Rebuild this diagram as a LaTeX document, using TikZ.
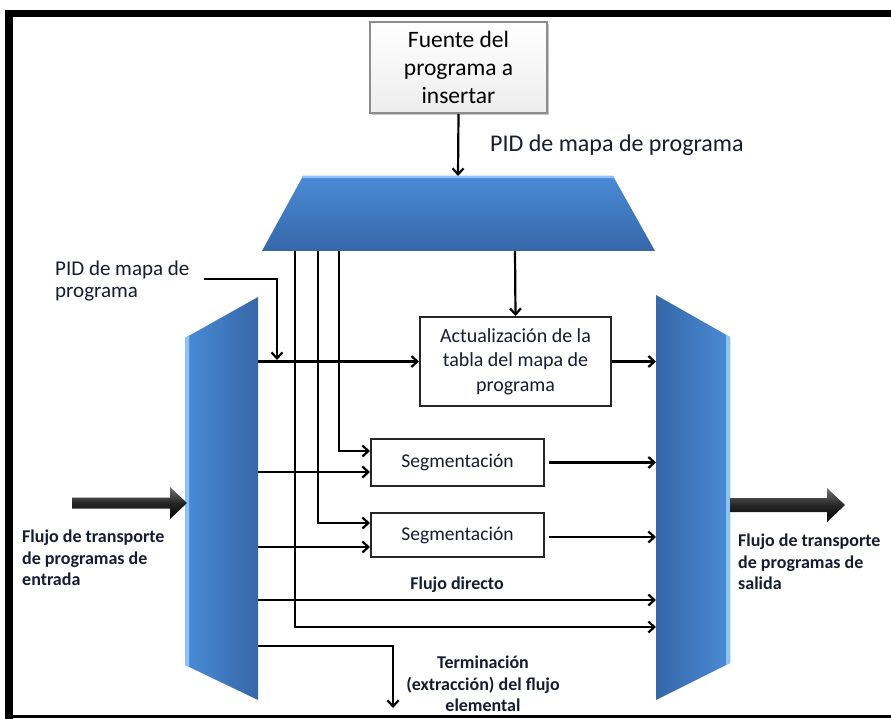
\documentclass[tikz,border=0pt]{standalone}
\usepackage{fontspec}
\setmainfont{Carlito}
\usetikzlibrary{arrows.meta,shadows,calc}

\definecolor{bluelight}{HTML}{4A8BD6}
\definecolor{bluedark}{HTML}{3667A8}
\definecolor{bluehi}{HTML}{8CC2F5}
\definecolor{inkblue}{HTML}{161C33}

\tikzset{
  conn/.style={line width=2.2pt, black},
  arr/.style={conn, -{Straight Barb[length=6pt,width=11pt]}},
  procbox/.style={draw=black!85, line width=2pt, fill=white, align=center,
    text=inkblue, inner sep=0pt},
  srcbox/.style={draw=black!45, line width=1.8pt, top color=white, bottom color=black!7,
    align=center, inner sep=0pt,
    drop shadow={opacity=0.45, shadow xshift=1.5pt, shadow yshift=-2.5pt}},
  plainlbl/.style={text=inkblue, inner sep=0pt},
  boldlbl/.style={text=inkblue, inner sep=0pt, font=\bfseries\fontsize{18}{21.5}\selectfont},
  bigarrow/.style={top color=black!55, bottom color=black, middle color=black!85}
}

\begin{document}
\begin{tikzpicture}[x=1pt,y=-1pt]
\useasboundingbox (0,0) rectangle (891,719);
\fill[white] (0,0) rectangle (891,719);

% frame
\fill[black] (5,10) rectangle (891,17.5);
\fill[black] (5,10) rectangle (12.5,719);
\fill[black] (5,714.5) rectangle (891,717.5);

% program source
\node[srcbox, minimum width=177pt, minimum height=91pt,
  font=\fontsize{23.5}{28}\selectfont] (src) at (458.5,67.5)
  {Fuente del\\programa a\\insertar};

% program map multiplexer (trapezoid)
\coordinate (mTL) at (303,176);
\coordinate (mTR) at (613,176);
\coordinate (mBR) at (655,251);
\coordinate (mBL) at (262,251);
\shade[top color=bluelight, bottom color=bluedark] (mTL) -- (mTR) -- (mBR) -- (mBL) -- cycle;
\fill[bluehi] (mTL) -- (mTR) -- (614.2,178.2) -- (301.8,178.2) -- cycle;
\coordinate (mTop) at (458,176);

\draw[arr] (src.south) -- (mTop);
\node[plainlbl, anchor=west, font=\fontsize{24}{28}\selectfont] (pidtop) at (490,145)
  {PID de mapa de programa};

% input panel
\coordinate (LP1) at (185,338);
\coordinate (LP2) at (258,297);
\coordinate (LP3) at (258,700);
\coordinate (LP4) at (185,665);
\shade[left color=bluelight, right color=bluedark] (LP1) -- (LP2) -- (LP3) -- (LP4) -- cycle;
\fill[bluehi] (LP1) -- (189,335.8) -- (189,666.9) -- (LP4) -- cycle;

% output panel
\coordinate (RP1) at (656,295);
\coordinate (RP2) at (730,337);
\coordinate (RP3) at (730,663);
\coordinate (RP4) at (656,700);
\shade[left color=bluedark, right color=bluelight] (RP1) -- (RP2) -- (RP3) -- (RP4) -- cycle;
\fill[bluehi] (726,334.7) -- (RP2) -- (RP3) -- (726,665) -- cycle;

% processing blocks
\node[procbox, minimum width=191pt, minimum height=89pt,
  font=\fontsize{20}{24.5}\selectfont] (act) at (515.5,361.5)
  {Actualización de la\\tabla del mapa de\\programa};
\node[procbox, minimum width=173pt, minimum height=47pt,
  font=\fontsize{19.5}{22}\selectfont] (seg1) at (457.5,462.5) {Segmentación};
\node[procbox, minimum width=173pt, minimum height=44pt,
  font=\fontsize{19.5}{22}\selectfont] (seg2) at (457.5,535) {Segmentación};

% taps on the multiplexer output
\coordinate (tapA) at (295,251);
\coordinate (tapB) at (318,251);
\coordinate (tapC) at (339,251);
\coordinate (tapD) at (515,251);

% side PID label
\node[plainlbl, anchor=west, align=left, font=\fontsize{21}{22.5}\selectfont] (lpid) at (55,281)
  {PID de mapa de\\programa};
\coordinate (pidDrop) at (277,360);
\draw[arr] ([xshift=14pt,yshift=2pt]lpid.east) -| (pidDrop);

% map table update
\draw[arr] (act.west -| LP2) -- (act.west);
\draw[arr] (act.east) -- (act.east -| RP1);
\draw[arr] (tapD) -- (act.north);

% segmentation 1
\coordinate (s1tap) at ([yshift=11.5pt]seg1.west);
\coordinate (s1in) at ([yshift=-9.5pt]seg1.west);
\coordinate (s1out) at ([xshift=4pt]seg1.east);
\draw[arr] (tapC) |- (s1tap);
\draw[arr] (s1in -| LP2) -- (s1in);
\draw[arr] (s1out) -- (s1out -| RP1);

% segmentation 2
\coordinate (s2tap) at ([yshift=12pt]seg2.west);
\coordinate (s2in) at ([yshift=-12pt]seg2.west);
\coordinate (s2out) at ([xshift=4pt,yshift=-2pt]seg2.east);
\draw[arr] (tapB) |- (s2tap);
\draw[arr] (s2in -| LP2) -- (s2in);
\draw[arr] (s2out) -- (s2out -| RP1);

% direct flow
\node[boldlbl] (fdl) at (457,585) {Flujo directo};
\coordinate (fd) at (457,600);
\draw[arr] (fd -| LP2) -- (fd -| RP1);

% inserted program path
\coordinate (ins) at (457,627);
\draw[arr] (tapA) |- (ins -| RP1);

% elementary stream termination
\coordinate (term) at (393,646);
\coordinate (termEnd) at (393,708);
\draw[arr] (term -| LP2) -| (termEnd);
\node[boldlbl, align=center] (terml) at (483,684)
  {Terminación\\(extracción) del flujo\\elemental};

% transport stream in / out
\shade[bigarrow] (72,497.5) -- (170,497.5) -- (170,487) -- (187,503) -- (170,519)
  -- (170,508.5) -- (72,508.5) -- cycle;
\shade[bigarrow] (730,498) -- (827,498) -- (827,488) -- (845,505) -- (827,522)
  -- (827,512) -- (730,512) -- cycle;
\node[boldlbl, align=left, anchor=west] (inl) at (22,558)
  {Flujo de transporte\\de programas de\\entrada};
\node[boldlbl, align=left, anchor=west] (outl) at (738,562)
  {Flujo de transporte\\de programas de\\salida};
\end{tikzpicture}
\end{document}
